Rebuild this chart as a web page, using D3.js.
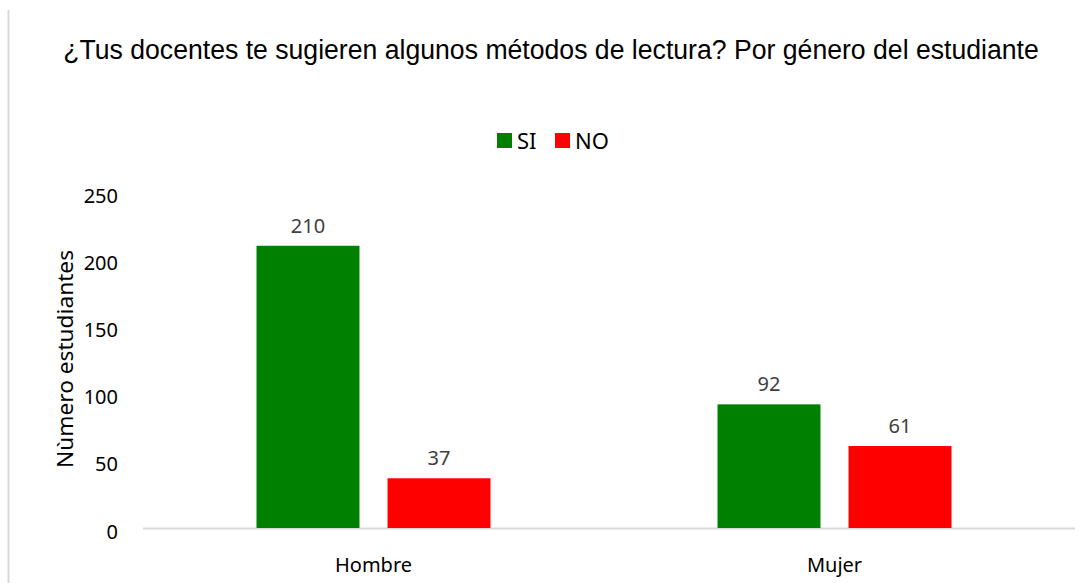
<!DOCTYPE html>
<html>
<head>
<meta charset="utf-8">
<script src="https://cdnjs.cloudflare.com/ajax/libs/d3/7.8.5/d3.min.js"></script>
<style>
  body { margin: 0; background: #fff; }
  svg { display: block; }
</style>
</head>
<body>
<svg id="viz"></svg>
<script>
const categories = ['Hombre', 'Mujer'];
const seriesNames = ['SI', 'NO'];
const siValues = [210, 92];
const noValues = [37, 61];
const yTicks = [0, 50, 100, 150, 200, 250];
const colors = ['#008000', '#ff0000'];

var width = 1081, height = 583;
var margin = {top: 192, right: 16, bottom: 55, left: 143};
var drawWidth = width - margin.left - margin.right;
var drawHeight = height - margin.top - margin.bottom;

var svg = d3.select('#viz').attr('width', width).attr('height', height);

// left frame line
svg.append('line')
   .attr('x1', 8.5).attr('x2', 8.5).attr('y1', 10).attr('y2', height)
   .attr('stroke', '#d9d9d9').attr('stroke-width', 2);

// title - the original is drawn narrow, so squeeze it horizontally
var titleG = svg.append('g');
var title = titleG.append('text')
   .attr('x', 0).attr('y', 0)
   .attr('text-anchor', 'middle')
   .style('font-family', '"Liberation Sans", Arial, sans-serif')
   .style('font-size', '28px')
   .attr('fill', '#000')
   .text('¿Tus docentes te sugieren algunos métodos de lectura? Por género del estudiante');
var titleW = title.node().getComputedTextLength();
titleG.attr('transform', `translate(551,59) scale(${976 / titleW},1)`);

var g = svg.append('g').attr('transform', `translate(${margin.left},${margin.top})`);

var xScale = d3.scaleBand().domain(categories).range([0, drawWidth]);
var xInner = d3.scaleBand().domain(seriesNames)
   .range([xScale.bandwidth() / 2 - 117, xScale.bandwidth() / 2 + 117])
   .paddingInner(0.214);
var yScale = d3.scaleLinear().domain([0, 250]).range([drawHeight, 0]);

var font = '"Noto Sans", "Open Sans", sans-serif';

// y axis labels
var yAxis = d3.axisLeft(yScale).tickValues(yTicks).tickSize(0).tickPadding(25);
var yg = g.append('g').call(yAxis);
yg.select('.domain').remove();
yg.selectAll('text').style('font-family', font).style('font-size', '20px').attr('fill', '#000').attr('dy', '0.5em');

// baseline
g.append('line')
 .attr('x1', 0).attr('x2', drawWidth + 10)
 .attr('y1', yScale(0) + 0.5).attr('y2', yScale(0) + 0.5)
 .attr('stroke', '#d9d9d9').attr('stroke-width', 2);

// x axis labels
var xAxis = d3.axisBottom(xScale).tickSize(0).tickPadding(30);
var xg = g.append('g').attr('transform', `translate(0,${drawHeight})`).call(xAxis);
xg.select('.domain').remove();
xg.selectAll('text').style('font-family', font).style('font-size', '20px').attr('fill', '#000');

// y axis title
svg.append('text')
   .attr('transform', `translate(73, 359) rotate(-90)`)
   .attr('text-anchor', 'middle')
   .attr('textLength', 218)
   .attr('lengthAdjust', 'spacingAndGlyphs')
   .style('font-family', font)
   .style('font-size', '21px')
   .attr('fill', '#000')
   .text('Nùmero estudiantes');

var rows = [];
categories.forEach(function(c, i) {
  rows.push({cat: c, s: 'SI', v: siValues[i], color: colors[0]});
  rows.push({cat: c, s: 'NO', v: noValues[i], color: colors[1]});
});

g.selectAll('rect.bar').data(rows).enter()
 .append('rect').attr('class', 'bar')
 .attr('x', d => xScale(d.cat) + xInner(d.s))
 .attr('y', d => yScale(d.v))
 .attr('width', xInner.bandwidth())
 .attr('height', d => drawHeight - yScale(d.v))
 .attr('fill', d => d.color);

g.selectAll('text.val').data(rows).enter()
 .append('text').attr('class', 'val')
 .attr('x', d => xScale(d.cat) + xInner(d.s) + xInner.bandwidth() / 2)
 .attr('y', d => yScale(d.v) - 13)
 .attr('text-anchor', 'middle')
 .style('font-family', font).style('font-size', '20px')
 .attr('fill', '#404040')
 .text(d => d.v);

// legend
var legend = svg.append('g').attr('transform', 'translate(497,133)');
var lx = [0, 58];
seriesNames.forEach(function(s, i) {
  var lg = legend.append('g').attr('transform', `translate(${lx[i]},0)`);
  lg.append('rect').attr('width', 15).attr('height', 15).attr('fill', colors[i]);
  lg.append('text').attr('x', 20).attr('y', 16)
    .style('font-family', font).style('font-size', '22px').attr('fill', '#000')
    .text(s);
});
</script>
</body>
</html>
